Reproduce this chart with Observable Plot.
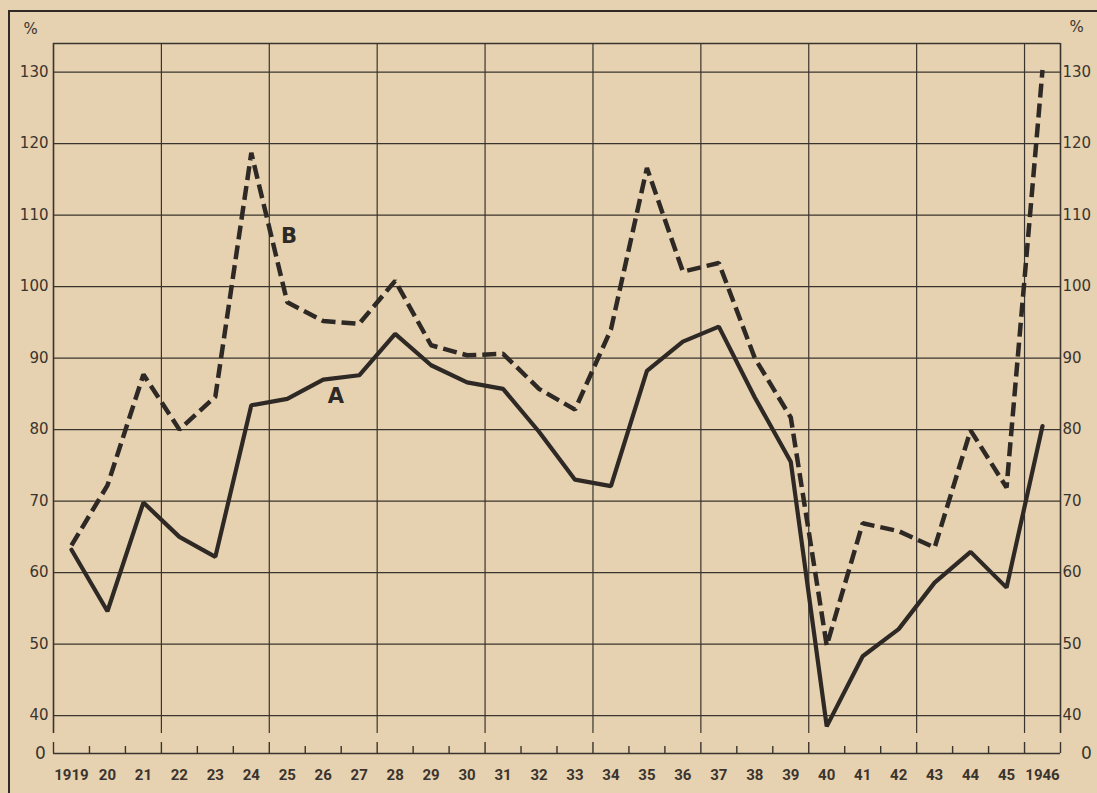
<!DOCTYPE html>
<html><head><meta charset="utf-8">
<script src="https://cdn.jsdelivr.net/npm/d3@7"></script>
<script src="https://cdn.jsdelivr.net/npm/@observablehq/plot@0.6"></script>
<style>
html,body{margin:0;padding:0;background:#e6d2b0;width:1097px;height:793px;overflow:hidden;}
#wrap{position:relative;width:1097px;height:793px;}
#border{position:absolute;left:8px;top:10px;right:0;bottom:0;border-top:2px solid #2f2a26;border-left:2px solid #2f2a26;}
#chart{position:absolute;left:0;top:0;}
</style></head><body>
<div id="wrap"><div id="border"></div><div id="chart"></div></div>
<script>
// ---- data ----
const years = [1919,1920,1921,1922,1923,1924,1925,1926,1927,1928,1929,1930,1931,1932,1933,1934,1935,1936,1937,1938,1939,1940,1941,1942,1943,1944,1945,1946];
const yearLabels = ["1919","20","21","22","23","24","25","26","27","28","29","30","31","32","33","34","35","36","37","38","39","40","41","42","43","44","45","1946"];
const seriesA = [63.2,54.6,69.8,65.0,62.2,83.4,84.3,87.0,87.6,93.4,89.0,86.6,85.7,79.7,73.0,72.1,88.2,92.3,94.4,84.5,75.5,38.5,48.3,52.1,58.6,62.9,57.9,80.5];
const seriesB = [63.8,72.2,87.7,80.0,84.6,118.7,97.8,95.2,94.8,100.8,91.8,90.4,90.6,85.7,82.8,94.0,116.6,102.1,103.3,90.0,81.7,49.8,66.9,65.8,63.5,79.9,71.9,130.3];
const yTicks = [40,50,60,70,80,90,100,110,120,130];
const seriesLabels = [{name:"A", year:1926.35, value:84.6}, {name:"B", year:1925.05, value:107}];

// ---- derived ----
const dataA = years.map((y,i)=>({year:y, value:seriesA[i]}));
const dataB = years.map((y,i)=>({year:y, value:seriesB[i]}));
const xMin = years[0]-0.5, xMax = years[years.length-1]+0.5;
const yBottom = 37.5, yTop = 134;
const boundaries = years.map(y=>y-0.5).concat([xMax]);
const isLong = b => (b - xMin) % 3 === 0 && b !== xMin;
const gridX = boundaries.filter(b => isLong(b));
const longTicks = boundaries.filter(b => isLong(b) || b === xMin || b === xMax);
const shortTicks = boundaries.filter(b => !longTicks.includes(b));

const ink = "#2e2925", grid = "#3a342e", txt = "#3b342e";
const W = 1097, H = 793, mT = 43, mB = 60;
const plotH = H - mT - mB;

const chart = Plot.plot({
  width: W, height: H,
  marginLeft: 53, marginRight: 37, marginTop: mT, marginBottom: mB,
  x: {type: "linear", domain: [xMin, xMax], axis: null},
  y: {domain: [yBottom, yTop], axis: null},
  style: {background: "transparent", fontFamily: "'DejaVu Sans', sans-serif", color: txt},
  marks: [
    Plot.ruleY(yTicks, {stroke: grid, strokeWidth: 1.2}),
    Plot.ruleX(gridX, {stroke: grid, strokeWidth: 1.2}),
    Plot.ruleX([xMin, xMax], {stroke: grid, strokeWidth: 1.6}),
    Plot.ruleY([yTop], {stroke: grid, strokeWidth: 1.6}),
    Plot.ruleY([yBottom], {dy: 20, stroke: grid, strokeWidth: 1.6}),
    Plot.ruleX(shortTicks, {insetTop: plotH - 7, dy: 20, stroke: grid, strokeWidth: 1.4}),
    Plot.ruleX(longTicks, {insetTop: plotH - 11, dy: 20, stroke: grid, strokeWidth: 1.4}),
    Plot.line(dataB, {x: "year", y: "value", stroke: ink, strokeWidth: 4.5, strokeDasharray: "14,6", strokeLinejoin: "miter", strokeLinecap: "butt"}),
    Plot.line(dataA, {x: "year", y: "value", stroke: ink, strokeWidth: 4.2, strokeLinejoin: "miter"}),
    Plot.text(yTicks, {x: xMin, y: d => d, text: d => String(d), textAnchor: "end", dx: -5, fontSize: 15, fill: txt, fontFamily: "'DejaVu Sans', sans-serif"}),
    Plot.text(yTicks, {x: xMax, y: d => d, text: d => String(d), textAnchor: "start", dx: 2, fontSize: 15, fill: txt, fontFamily: "'DejaVu Sans', sans-serif"}),
    Plot.text(years, {x: d => d, y: yBottom, dy: 42, text: (d, i) => yearLabels[i], fontSize: 15, fontWeight: "bold", fill: txt, fontFamily: "Roboto, sans-serif"}),
    Plot.text(["0"], {x: xMin, y: yBottom, dy: 20, dx: -13, text: d => d, fontSize: 17, fill: txt}),
    Plot.text(["0"], {x: xMax, y: yBottom, dy: 20, dx: 26, text: d => d, fontSize: 17, fill: txt}),
    Plot.text(["%"], {x: xMin, y: yTop, dx: -23, dy: -14, text: d => d, fontSize: 15, fill: txt}),
    Plot.text(["%"], {x: xMax, y: yTop, dx: 16, dy: -16, text: d => d, fontSize: 15, fill: txt}),
    Plot.text(seriesLabels, {x: "year", y: "value", text: "name", fontSize: 21, fontWeight: "bold", fill: ink, fontFamily: "'DejaVu Sans', sans-serif"})
  ]
});
document.getElementById("chart").appendChild(chart);
</script>
</body></html>
